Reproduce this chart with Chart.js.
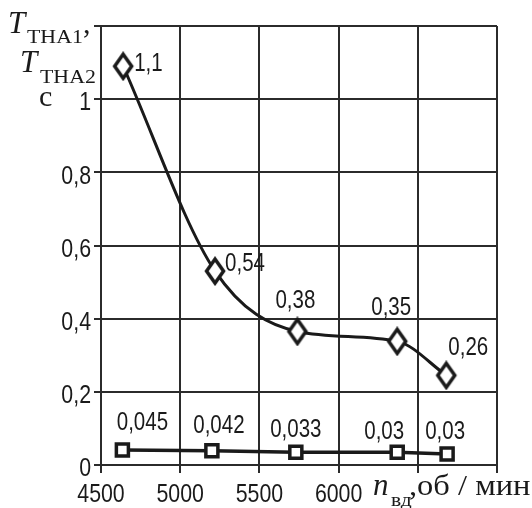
<!DOCTYPE html>
<html>
<head>
<meta charset="utf-8">
<script src="https://cdn.jsdelivr.net/npm/chart.js@4"></script>
<style>
  html, body { margin: 0; padding: 0; background: #fff; }
  #wrap { width: 532px; height: 508px; position: relative; }
</style>
</head>
<body>
<div id="wrap"><canvas id="chart" width="532" height="508"></canvas></div>
<script>
// diamonds - T_THA1
const rpmTha1 = [4640, 5220, 5740, 6370, 6680];
const timeTha1 = [1.09, 0.53, 0.365, 0.338, 0.245];
const textTha1 = ["1,1", "0,54", "0,38", "0,35", "0,26"];

// squares - T_THA2
const rpmTha2 = [4635, 5200, 5730, 6370, 6685];
const timeTha2 = [0.041, 0.039, 0.035, 0.035, 0.03];
const textTha2 = ["0,045", "0,042", "0,033", "0,03", "0,03"];

const xTickLabels = [4500, 5000, 5500, 6000];
const yTickLabels = [0, 0.2, 0.4, 0.6, 0.8, 1];

const INK = "#1a1a1a";
const GRID = "#2b2b2b";
const SANS = "'Liberation Sans', Arial, sans-serif";
const SERIF = "'Liberation Serif', 'DejaVu Serif', serif";
const NARROW_X = 0.82; // fake Arial Narrow

// label offsets from the marker, px: [dx, dy, align]
const offsTha1 = [[11, -2, "left"], [10, -7, "left"], [-2, -30, "center"], [-6, -33, "center"], [2, -27, "left"]];
const offsTha2 = [[20, -27, "center"], [7, -25, "center"], [0, -22, "center"], [-13, -20, "center"], [-2, -22, "center"]];

function toPoints(xs, ys) {
  return xs.map((x, i) => ({ x: x, y: ys[i] }));
}

// the diamonds in the original are a bit taller than wide
function makeDiamond() {
  const c = document.createElement("canvas");
  c.width = 24;
  c.height = 30;
  const g = c.getContext("2d");
  g.beginPath();
  g.moveTo(12, 3);
  g.lineTo(20.5, 15);
  g.lineTo(12, 27);
  g.lineTo(3.5, 15);
  g.closePath();
  g.fillStyle = "#fff";
  g.fill();
  g.lineWidth = 3.5;
  g.lineJoin = "miter";
  g.strokeStyle = INK;
  g.stroke();
  return c;
}

function narrowText(ctx, text, x, y, align) {
  ctx.save();
  ctx.translate(x, y);
  ctx.scale(NARROW_X, 1);
  ctx.textAlign = align;
  ctx.fillText(text, 0, 0);
  ctx.restore();
}

function stretchText(ctx, text, x, y, sx) {
  ctx.save();
  ctx.translate(x, y);
  ctx.scale(sx, 1);
  ctx.fillText(text, 0, 0);
  ctx.restore();
}

const chartText = {
  id: "chartText",
  afterDatasetsDraw(chart) {
    const ctx = chart.ctx;
    ctx.save();
    ctx.fillStyle = INK;
    ctx.font = "25px " + SANS;
    ctx.textBaseline = "middle";
    const sets = [[0, textTha1, offsTha1], [1, textTha2, offsTha2]];
    sets.forEach(([idx, texts, offs]) => {
      chart.getDatasetMeta(idx).data.forEach((pt, i) => {
        narrowText(ctx, texts[i], pt.x + offs[i][0], pt.y + offs[i][1], offs[i][2]);
      });
    });
    ctx.restore();
  },
  afterDraw(chart) {
    const ctx = chart.ctx;
    const xs = chart.scales.x;
    const ys = chart.scales.y;
    const area = chart.chartArea;
    ctx.save();
    ctx.fillStyle = INK;

    // tick labels
    ctx.font = "26px " + SANS;
    ctx.textBaseline = "middle";
    yTickLabels.forEach((v) => {
      narrowText(ctx, String(v).replace(".", ","), area.left - 10, ys.getPixelForValue(v) + 4, "right");
    });
    xTickLabels.forEach((v) => {
      narrowText(ctx, String(v), xs.getPixelForValue(v), area.bottom + 30, "center");
    });

    // y axis title
    ctx.textBaseline = "alphabetic";
    ctx.textAlign = "left";
    ctx.font = "italic 31px " + SERIF;
    ctx.fillText("T", 8, 33);
    ctx.fillText("T", 20, 72);
    ctx.font = "30px " + SERIF;
    ctx.fillText(",", 83, 33);
    ctx.fillText("с", 39, 106);
    ctx.font = "19px " + SERIF;
    stretchText(ctx, "THA1", 27, 43, 1.15);
    stretchText(ctx, "THA2", 40, 83, 1.15);

    // x axis title
    ctx.font = "italic 31px " + SERIF;
    ctx.fillText("n", 373, 495);
    ctx.font = "18px " + SERIF;
    stretchText(ctx, "вд", 391, 506, 1.2);
    ctx.font = "29px " + SERIF;
    stretchText(ctx, ",об / мин", 409, 495, 1.12);
    ctx.restore();
  }
};

new Chart(document.getElementById("chart"), {
  type: "scatter",
  data: {
    datasets: [
      {
        data: toPoints(rpmTha1, timeTha1),
        showLine: true,
        borderColor: INK,
        borderWidth: 3,
        cubicInterpolationMode: "monotone",
        pointStyle: makeDiamond(),
        pointRadius: 11,
      },
      {
        data: toPoints(rpmTha2, timeTha2),
        showLine: true,
        borderColor: INK,
        borderWidth: 3.5,
        tension: 0,
        pointStyle: "rect",
        pointRadius: 8.5,
        pointBorderWidth: 3.5,
        pointBackgroundColor: "#fff",
        pointBorderColor: INK,
      },
    ],
  },
  options: {
    responsive: false,
    animation: false,
    events: [],
    layout: { padding: { left: 0, top: 26, right: 35, bottom: 0 } },
    plugins: { legend: { display: false }, tooltip: { enabled: false } },
    scales: {
      x: {
        type: "linear",
        min: 4500,
        max: 7000,
        afterBuildTicks: (scale) => {
          scale.ticks = [4500, 5000, 5500, 6000, 6500, 7000].map((v) => ({ value: v }));
        },
        ticks: { display: false },
        grid: { color: GRID, lineWidth: 2, tickLength: 8, tickColor: GRID },
        border: { color: GRID, width: 2 },
        afterFit: (scale) => {
          scale.height = 43;
          scale.paddingLeft = 0;
          scale.paddingRight = 0;
        },
      },
      y: {
        min: 0,
        max: 1.2,
        afterBuildTicks: (scale) => {
          scale.ticks = [0, 0.2, 0.4, 0.6, 0.8, 1, 1.2].map((v) => ({ value: v }));
        },
        ticks: { display: false },
        grid: { color: GRID, lineWidth: 2, tickLength: 7, tickColor: GRID },
        border: { color: GRID, width: 2 },
        afterFit: (scale) => {
          scale.width = 101;
          scale.paddingTop = 0;
          scale.paddingBottom = 0;
        },
      },
    },
  },
  plugins: [chartText],
});
</script>
</body>
</html>
